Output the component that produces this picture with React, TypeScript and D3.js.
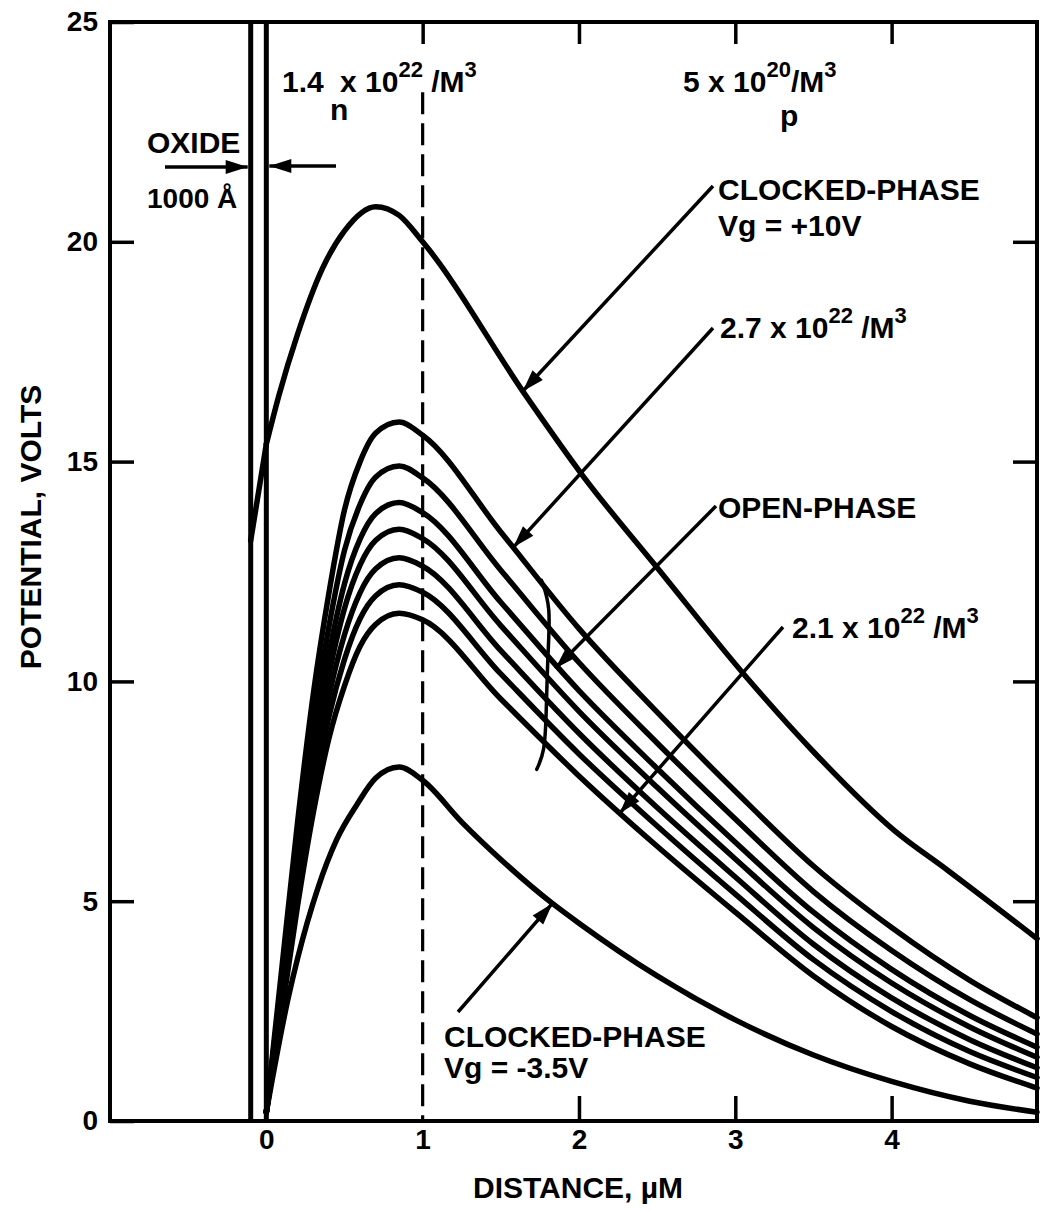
import React, { useEffect, useRef } from 'react';
import * as d3 from 'd3';

// Potential profiles across a buried-channel structure (oxide, n layer, p substrate)

const WIDTH = 1041;
const HEIGHT = 1210;
const FONT = '"Liberation Sans", Arial, Helvetica, sans-serif';

// axis ticks
const X_TICKS = [0, 1, 2, 3, 4];
const Y_TICKS = [0, 5, 10, 15, 20, 25];
const X_TOP_TICKS = [1, 2, 3, 4];
const Y_RIGHT_TICKS = [5, 10, 15, 20];

// oxide boundaries (1000 A = 0.1 um) and the n/p junction
const OXIDE_X = [-0.1, 0];
const JUNCTION_X = 1;
const JUNCTION_TOP_V = 23.4;

// open-phase family, distance in um
const OPEN_X = [0, 0.1, 0.2, 0.3, 0.4, 0.5, 0.6, 0.7, 0.85, 1.0, 1.5, 2.0, 2.5, 3.0, 3.5, 4.0, 4.5, 4.93];
const OPEN_27 = [0.2, 3.5, 6.8, 9.7, 12.0, 13.9, 15.0, 15.65, 15.9, 15.6, 13.4, 11.2, 9.3, 7.5, 5.8, 4.4, 3.2, 2.35];
const OPEN_26 = [0.2, 3.27, 6.36, 9.08, 11.24, 12.98, 14.03, 14.65, 14.9, 14.63, 12.53, 10.43, 8.6, 6.87, 5.22, 3.88, 2.76, 1.98];
const OPEN_25 = [0.2, 3.08, 6.0, 8.57, 10.61, 12.22, 13.24, 13.82, 14.07, 13.84, 11.8, 9.79, 8.02, 6.34, 4.75, 3.45, 2.4, 1.68];
const OPEN_24 = [0.2, 2.94, 5.74, 8.19, 10.15, 11.66, 12.65, 13.21, 13.46, 13.25, 11.27, 9.32, 7.59, 5.96, 4.4, 3.14, 2.14, 1.45];
const OPEN_23 = [0.2, 2.79, 5.45, 7.78, 9.66, 11.06, 12.02, 12.56, 12.81, 12.62, 10.7, 8.82, 7.13, 5.55, 4.02, 2.8, 1.85, 1.21];
const OPEN_22 = [0.2, 2.65, 5.18, 7.4, 9.19, 10.5, 11.43, 11.95, 12.2, 12.03, 10.17, 8.35, 6.71, 5.16, 3.67, 2.49, 1.58, 0.99];
const OPEN_21 = [0.2, 2.5, 4.9, 7.0, 8.7, 9.9, 10.8, 11.3, 11.55, 11.4, 9.6, 7.85, 6.25, 4.75, 3.3, 2.15, 1.3, 0.75];
const OPEN_SERIES = [OPEN_27, OPEN_26, OPEN_25, OPEN_24, OPEN_23, OPEN_22, OPEN_21];

// clocked phase, Vg = +10V
const CLK_POS_X = [0, 0.08, 0.2, 0.36, 0.5, 0.7, 0.85, 1.0, 1.66, 2.02, 2.52, 3.07, 3.5, 4.02, 4.36, 4.93];
const CLK_POS_V = [15.4, 16.5, 17.9, 19.4, 20.25, 20.8, 20.6, 20.0, 16.5, 14.7, 12.5, 10.1, 8.4, 6.6, 5.7, 4.15];
// its drop across the oxide
const CLK_POS_OX_X = [-0.1, 0];
const CLK_POS_OX_V = [13.2, 15.4];

// clocked phase, Vg = -3.5V
const CLK_NEG_X = [0, 0.14, 0.2, 0.33, 0.45, 0.58, 0.7, 0.85, 1.0, 1.25, 1.5, 1.83, 2.0, 2.5, 3.0, 3.5, 4.0, 4.5, 4.93];
const CLK_NEG_V = [0.2, 2.8, 3.7, 5.3, 6.4, 7.2, 7.8, 8.05, 7.75, 6.8, 5.95, 4.95, 4.5, 3.3, 2.3, 1.5, 0.9, 0.45, 0.2];

// brace grouping the open-phase curves
const BRACE_X = [1.76, 1.82, 1.8, 1.79, 1.78, 1.73];
const BRACE_V = [12.3, 11.7, 10.65, 9.15, 8.4, 8.0];

const margin = { left: 110, top: 22, right: 4, bottom: 89 };

const x = d3.scaleLinear().domain([-1.0, 4.93]).range([margin.left, WIDTH - margin.right]);
const y = d3.scaleLinear().domain([0, 25]).range([HEIGHT - margin.bottom, margin.top]);

const line = d3.line<[number, number]>()
  .x(d => x(d[0]))
  .y(d => y(d[1]))
  .curve(d3.curveMonotoneX);

const zip = (xs: number[], vs: number[]) => xs.map((v, i) => [v, vs[i]] as [number, number]);

// leader lines: text-side start in px, tip on a curve in data units
const LEADERS = [
  { from: [713, 186], to: [1.64, 16.6] },
  { from: [713, 328], to: [1.58, 13.05] },
  { from: [716, 506], to: [1.85, 10.3] },
  { from: [783, 627], to: [2.26, 7.0] },
  { from: [458, 1012], to: [1.83, 4.95] }
];

function arrowHead (sx: number, sy: number, tx: number, ty: number, len = 22, half = 7) {
  const dx = tx - sx, dy = ty - sy;
  const d = Math.hypot(dx, dy);
  const ux = dx / d, uy = dy / d;
  const bx = tx - ux * len, by = ty - uy * len;
  return `${tx},${ty} ${bx - uy * half},${by + ux * half} ${bx + uy * half},${by - ux * half}`;
}

export default function App () {
  const leftRef = useRef<SVGGElement>(null);
  const bottomRef = useRef<SVGGElement>(null);
  const topRef = useRef<SVGGElement>(null);
  const rightRef = useRef<SVGGElement>(null);

  useEffect(() => {
    const style = (g: any) => {
      g.select('.domain').remove();
      g.attr('font-family', FONT).attr('font-size', 28).attr('font-weight', 'bold');
      g.selectAll('.tick line').attr('stroke-width', 3.5);
    };

    d3.select(leftRef.current)
      .call(d3.axisLeft(y).tickValues(Y_TICKS).tickSize(-24).tickPadding(12).tickFormat(d3.format('d')) as any)
      .call(style);

    const bottom = d3.select(bottomRef.current)
      .call(d3.axisBottom(x).tickValues(X_TICKS).tickSize(-25).tickPadding(8).tickFormat(d3.format('d')) as any)
      .call(style);
    // 0 and 1 sit under the oxide and the junction line
    bottom.selectAll('.tick line').filter((d: any) => d < 2).remove();

    d3.select(topRef.current)
      .call(d3.axisTop(x).tickValues(X_TOP_TICKS).tickSize(-22).tickFormat(() => '') as any)
      .call(style);

    d3.select(rightRef.current)
      .call(d3.axisRight(y).tickValues(Y_RIGHT_TICKS).tickSize(-24).tickFormat(() => '') as any)
      .call(style);
  }, []);

  const x0 = x.range()[0], x1 = x.range()[1];
  const y0 = y.range()[0], y1 = y.range()[1];
  const sup = { fontSize: 22 };

  return (
    <svg width={WIDTH} height={HEIGHT} style={{ position: 'absolute', left: 0, top: 0, background: '#fff' }}
      fontFamily={FONT} fontWeight='bold' fontSize={30}>
      <rect x={0} y={0} width={WIDTH} height={HEIGHT} fill='#fff' />

      {/* oxide boundaries */}
      {OXIDE_X.map(v => (
        <line key={v} x1={x(v)} x2={x(v)} y1={y(25)} y2={y(0)} stroke='#000' strokeWidth={5} />
      ))}

      {/* n/p junction */}
      <line x1={x(JUNCTION_X)} x2={x(JUNCTION_X)} y1={y(JUNCTION_TOP_V)} y2={y(0)}
        stroke='#000' strokeWidth={3.2} strokeDasharray='22 9' />

      {/* curves */}
      <g fill='none' stroke='#000' strokeWidth={5.5} strokeLinejoin='round' strokeLinecap='round'>
        {OPEN_SERIES.map((s, i) => <path key={i} d={line(zip(OPEN_X, s)) || ''} />)}
        <path d={line(zip(CLK_POS_X, CLK_POS_V)) || ''} />
        <path d={d3.line<[number, number]>().x(d => x(d[0])).y(d => y(d[1]))(zip(CLK_POS_OX_X, CLK_POS_OX_V)) || ''} />
        <path d={line(zip(CLK_NEG_X, CLK_NEG_V)) || ''} />
        <path d={d3.line<[number, number]>().x(d => x(d[0])).y(d => y(d[1])).curve(d3.curveBasis)(zip(BRACE_X, BRACE_V)) || ''}
          strokeWidth={3.5} />
      </g>

      {/* leaders */}
      {LEADERS.map((l, i) => {
        const tx = x(l.to[0]), ty = y(l.to[1]);
        return (
          <g key={i}>
            <line x1={l.from[0]} y1={l.from[1]} x2={tx} y2={ty} stroke='#000' strokeWidth={3.5} />
            <polygon points={arrowHead(l.from[0], l.from[1], tx, ty)} fill='#000' />
          </g>
        );
      })}

      {/* oxide thickness arrows */}
      <line x1={165} y1={167} x2={x(-0.1) - 3} y2={167} stroke='#000' strokeWidth={3.5} />
      <polygon points={arrowHead(165, 167, x(-0.1) - 3, 167)} fill='#000' />
      <line x1={336} y1={166} x2={x(0) + 3} y2={166} stroke='#000' strokeWidth={3.5} />
      <polygon points={arrowHead(336, 166, x(0) + 3, 166)} fill='#000' />

      {/* frame */}
      <rect x={x0} y={y1} width={x1 - x0} height={y0 - y1} fill='none' stroke='#000' strokeWidth={4} />

      <g ref={leftRef} transform={`translate(${x0},0)`} />
      <g ref={bottomRef} transform={`translate(0,${y0})`} />
      <g ref={topRef} transform={`translate(0,${y1})`} />
      <g ref={rightRef} transform={`translate(${x1},0)`} />

      {/* labels */}
      <text x={282} y={92}>1.4<tspan x={340}>x 10</tspan><tspan dy={-15} {...sup}>22</tspan><tspan dy={15}> /M</tspan><tspan dy={-15} {...sup}>3</tspan></text>
      <text x={330} y={120}>n</text>

      <text x={683} y={92}>5 x 10<tspan dy={-15} {...sup}>20</tspan><tspan dy={15}>/M</tspan><tspan dy={-15} {...sup}>3</tspan></text>
      <text x={780} y={126}>p</text>

      <text x={147} y={153}>OXIDE</text>
      <text x={147} y={208} fontSize={28}>1000 Å</text>

      <text x={718} y={200}>CLOCKED-PHASE</text>
      <text x={718} y={236}>Vg = +10V</text>

      <text x={720} y={338}>2.7 x 10<tspan dy={-15} {...sup}>22</tspan><tspan dy={15}> /M</tspan><tspan dy={-15} {...sup}>3</tspan></text>

      <text x={718} y={518}>OPEN-PHASE</text>

      <text x={792} y={638}>2.1 x 10<tspan dy={-15} {...sup}>22</tspan><tspan dy={15}> /M</tspan><tspan dy={-15} {...sup}>3</tspan></text>

      <text x={444} y={1047}>CLOCKED-PHASE</text>
      <text x={444} y={1078}>Vg = -3.5V</text>

      <text transform='translate(41,527) rotate(-90)' textAnchor='middle'>POTENTIAL, VOLTS</text>
      <text x={578} y={1198} textAnchor='middle'>DISTANCE, µM</text>
    </svg>
  );
}
